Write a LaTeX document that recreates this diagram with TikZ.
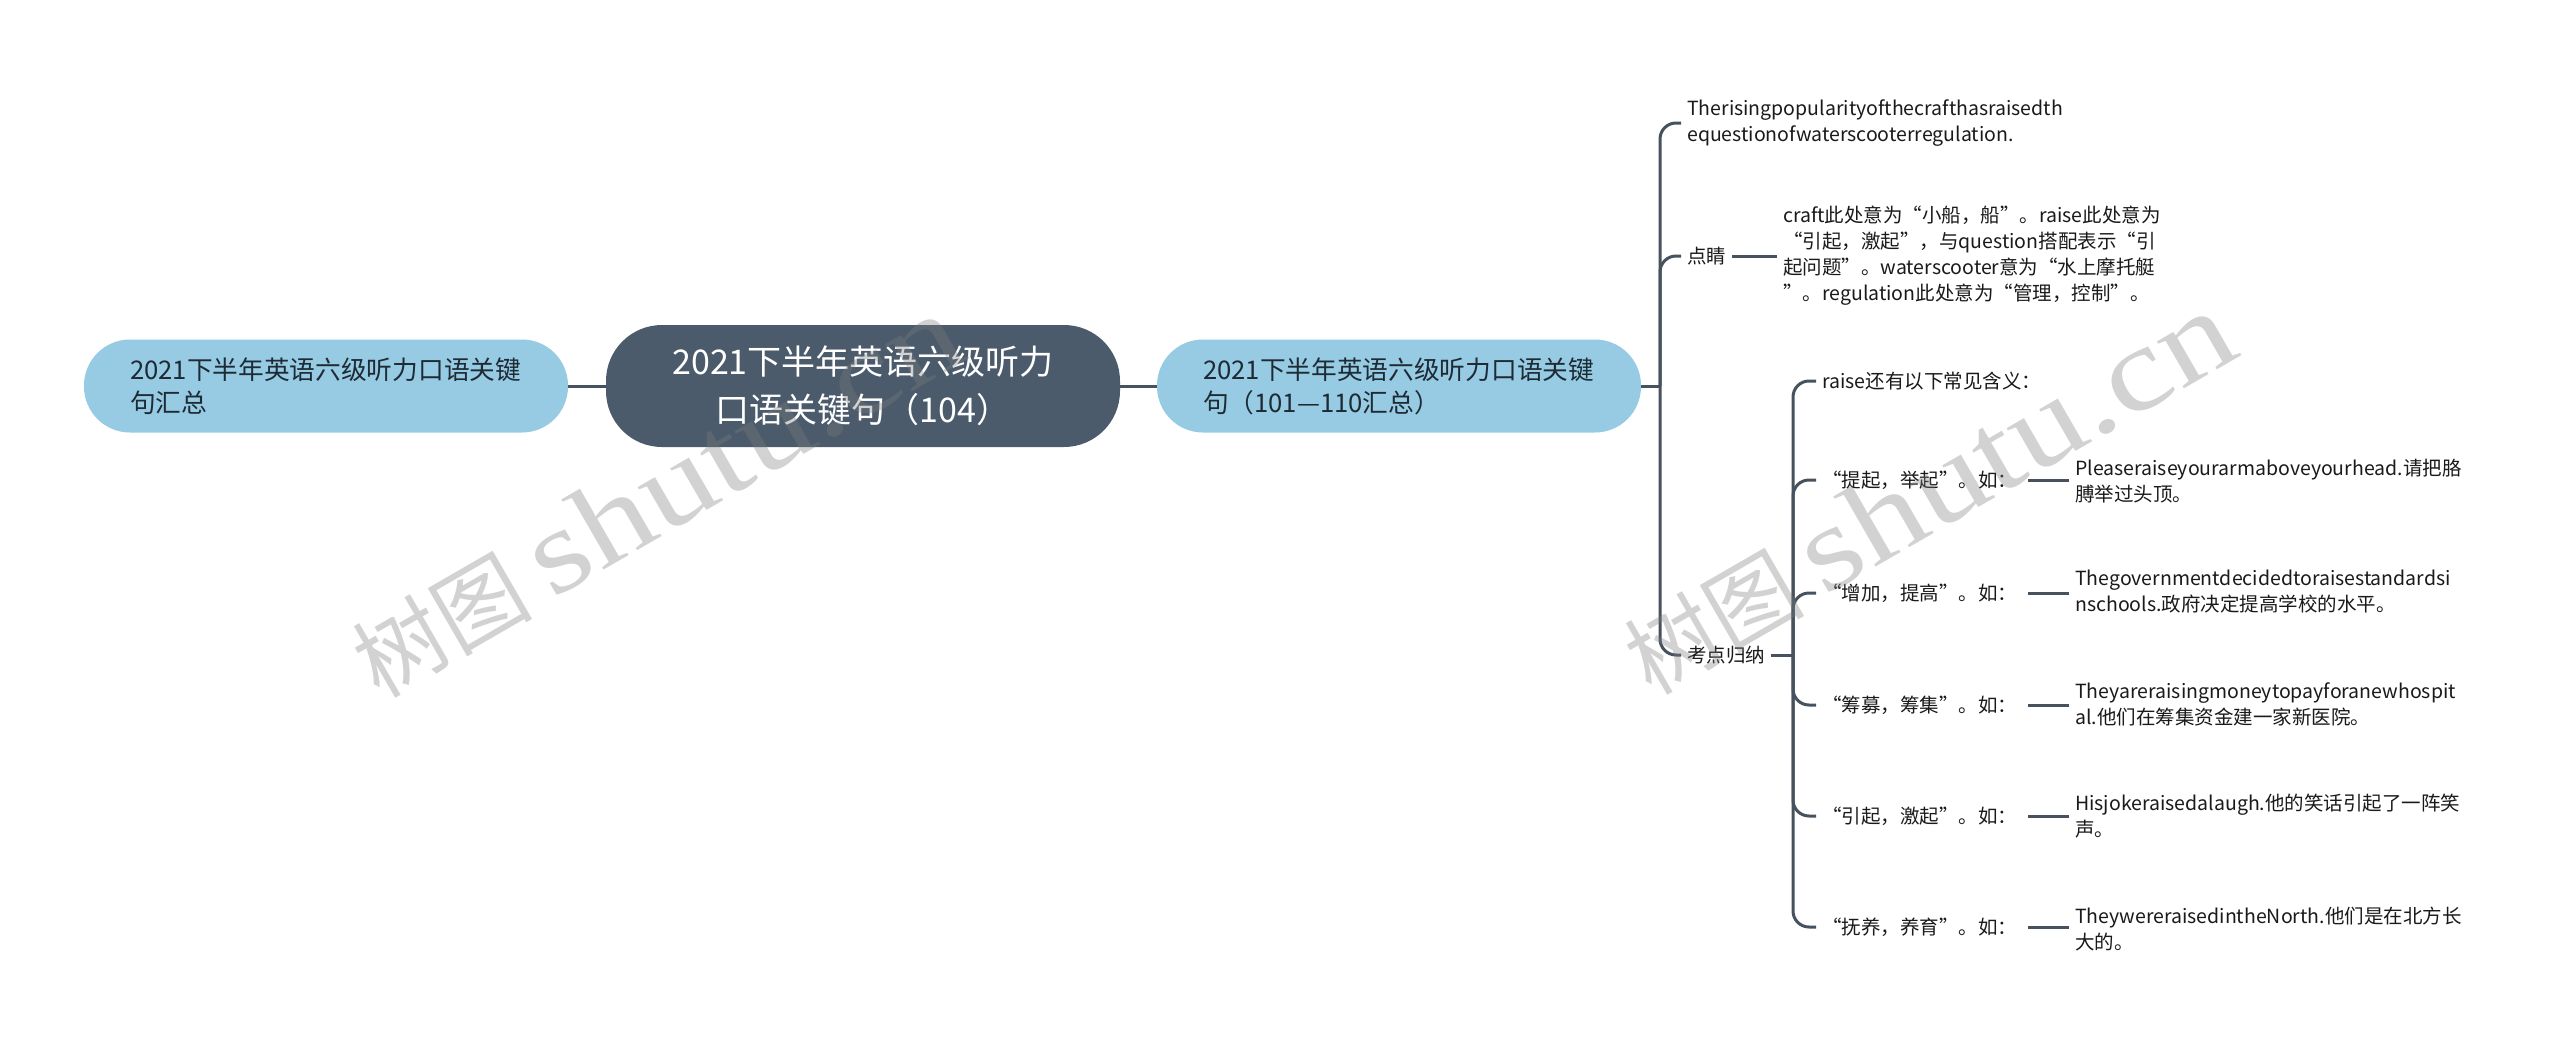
\documentclass[tikz,border=0pt]{standalone}
\usepackage{fontspec}
\setmainfont{Noto Sans CJK SC}
\newfontfamily\wmlatin[FakeStretch=1.22]{Liberation Serif}
\usetikzlibrary{positioning}

\definecolor{rootfill}{HTML}{4B5B6B}
\definecolor{topicfill}{HTML}{96CBE3}
\definecolor{topictext}{HTML}{1E2B35}
\definecolor{leaftext}{HTML}{1A1A1A}
\definecolor{linkc}{HTML}{46525E}
\definecolor{wmgray}{HTML}{7C7C7C}

\begin{document}
\begin{tikzpicture}[x=1pt, y=-1pt,
  rootbox/.style={fill=rootfill, text=white, rounded corners=56pt, minimum width=514pt, minimum height=122pt, align=center, font=\fontsize{34}{48}\selectfont},
  topicbox/.style={fill=topicfill, text=topictext, rounded corners=46pt, minimum width=484pt, minimum height=93pt, text width=392pt, inner xsep=46pt, align=left, font=\fontsize{25.7}{33}\selectfont},
  leaf/.style={anchor=west, inner xsep=6pt, inner ysep=2pt, align=left, text=leaftext, font=\fontsize{19.5}{26}\selectfont},
  link/.style={draw=linkc, line width=3pt},
  elbow/.style={link, rounded corners=16pt},
  wmtext/.style={rotate=30, anchor=base west, inner sep=0pt, text=wmgray, opacity=0.34, font=\fontsize{90}{90}\selectfont}
]
  \fill[white] (0,0) rectangle (2560,1047);
  \useasboundingbox (0,0) rectangle (2560,1047);

  % main topics
  \node[rootbox] (root) at (863,386) {2021下半年英语六级听力\\口语关键句（104）};
  \node[topicbox] (leftn) at (326,386) {2021下半年英语六级听力口语关键\\句汇总};
  \node[topicbox] (rightn) at (1399,386) {2021下半年英语六级听力口语关键\\句（101—110汇总）};

  % first level leaves
  \node[leaf] (t1) at (1681,123) {Therisingpopularityofthecrafthasraisedth\\equestionofwaterscooterregulation.};
  \node[leaf] (dj) at (1681,256) {点睛};
  \node[leaf] (djtext) at (1777,256) {craft此处意为“小船，船”。raise此处意为\\“引起，激起”，与question搭配表示“引\\起问题”。waterscooter意为“水上摩托艇\\”。regulation此处意为“管理，控制”。};
  \node[leaf] (kd) at (1681,655) {考点归纳};

  % second level leaves
  \node[leaf] (s0) at (1816,381) {raise还有以下常见含义：};
  \node[leaf] (s1) at (1816,480) {“提起，举起”。如：};
  \node[leaf] (s2) at (1816,593) {“增加，提高”。如：};
  \node[leaf] (s3) at (1816,705) {“筹募，筹集”。如：};
  \node[leaf] (s4) at (1816,816) {“引起，激起”。如：};
  \node[leaf] (s5) at (1816,927) {“抚养，养育”。如：};

  \node[leaf] (ex1) at (2069,481) {Pleaseraiseyourarmaboveyourhead.请把胳\\膊举过头顶。};
  \node[leaf] (ex2) at (2069,592) {Thegovernmentdecidedtoraisestandardsi\\nschools.政府决定提高学校的水平。};
  \node[leaf] (ex3) at (2069,704) {Theyareraisingmoneytopayforanewhospit\\al.他们在筹集资金建一家新医院。};
  \node[leaf] (ex4) at (2069,816) {Hisjokeraisedalaugh.他的笑话引起了一阵笑\\声。};
  \node[leaf] (ex5) at (2069,929) {TheywereraisedintheNorth.他们是在北方长\\大的。};

  % connectors
  \coordinate (junc) at (1660,386);
  \coordinate (sjunc) at (1793,655);
  \draw[link] (leftn) -- (root);
  \draw[link] (root) -- (rightn);
  \draw[link] (rightn) -- (junc);
  \foreach \n in {t1,dj,kd}
    \draw[elbow] (junc) -- (junc |- \n.west) -- (\n.west);
  \draw[link] (dj.east) -- (dj.east -| djtext.west);
  \draw[link] (kd.east) -- (sjunc);
  \foreach \n in {s0,s1,s2,s3,s4,s5}
    \draw[elbow] (sjunc) -- (sjunc |- \n.west) -- (\n.west);
  \foreach \i in {1,...,5}
    \draw[link, shorten <=5pt] (s\i.east) -- (s\i.east -| ex\i.west);

  % watermarks
  \node[wmtext] (wm1) at (379,700) {树图 {\wmlatin\fontsize{118}{118}\selectfont shutu.cn}};
  \node[wmtext] (wm2) at (1651,697) {树图 {\wmlatin\fontsize{118}{118}\selectfont shutu.cn}};
\end{tikzpicture}
\end{document}
